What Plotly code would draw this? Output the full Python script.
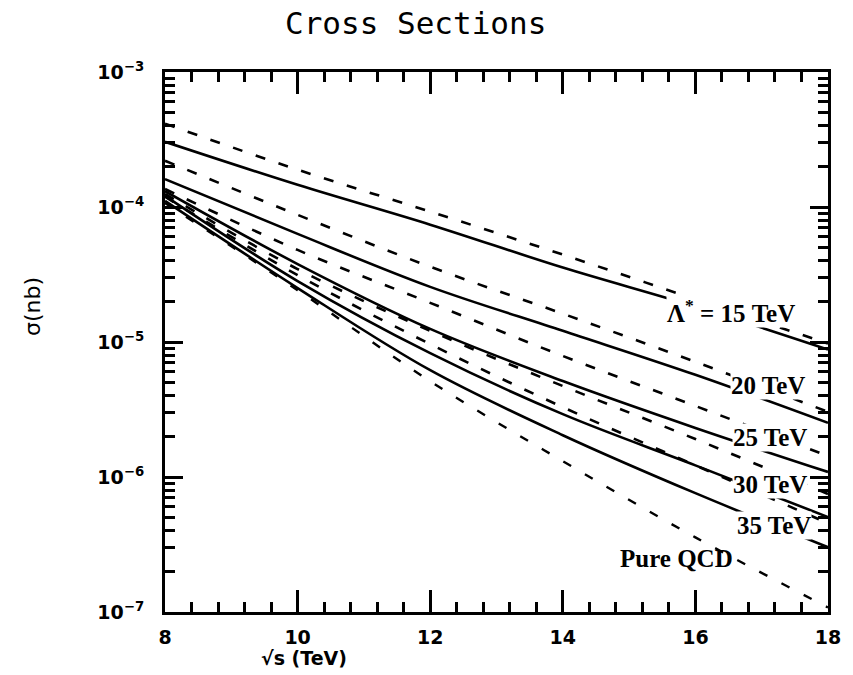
import plotly.graph_objects as go

# centre-of-mass energy sqrt(s) in TeV
sqrt_s = [8, 10, 12, 14, 16, 18]

# cross sections sigma (nb); solid and dashed curves for each compositeness scale
sigma_solid_15 = [3.04e-4, 1.46e-4, 7.40e-5, 3.56e-5, 1.83e-5, 8.79e-6]
sigma_dash_15 = [4.14e-4, 1.89e-4, 9.24e-5, 4.44e-5, 2.07e-5, 9.75e-6]
sigma_solid_20 = [1.61e-4, 6.32e-5, 2.56e-5, 1.21e-5, 5.71e-6, 2.52e-6]
sigma_dash_20 = [2.20e-4, 8.75e-5, 3.61e-5, 1.62e-5, 7.13e-6, 3.04e-6]
sigma_solid_25 = [1.31e-4, 3.78e-5, 1.25e-5, 5.14e-6, 2.31e-6, 1.09e-6]
sigma_dash_25 = [1.36e-4, 4.81e-5, 1.95e-5, 7.88e-6, 3.36e-6, 1.43e-6]
sigma_solid_30 = [1.21e-4, 2.83e-5, 8.27e-6, 2.92e-6, 1.22e-6, 5.05e-7]
sigma_dash_30 = [1.25e-4, 3.47e-5, 1.21e-5, 4.72e-6, 1.91e-6, 7.48e-7]
sigma_solid_35 = [1.11e-4, 2.51e-5, 6.18e-6, 2.04e-6, 7.59e-7, 3.02e-7]
sigma_dash_35 = [1.19e-4, 3.13e-5, 9.64e-6, 3.29e-6, 1.22e-6, 4.55e-7]
sigma_qcd = [1.07e-4, 2.42e-5, 5.12e-6, 1.31e-6, 3.57e-7, 1.08e-7]

y_major = [1e-7, 1e-6, 1e-5, 1e-4, 1e-3]
y_major_text = ["10<sup>−7</sup>", "10<sup>−6</sup>", "10<sup>−5</sup>",
                "10<sup>−4</sup>", "10<sup>−3</sup>"]
x_major = [8, 10, 12, 14, 16, 18]

# minor tick positions: every 0.4 TeV, and 2..9 within each decade
x_minor = [round(8 + 0.4 * i, 1) for i in range(26) if i % 5 != 0]
y_minor = [m * 10.0 ** e for e in range(-7, -3) for m in range(2, 10)]

curve_labels = ["Λ<sup>*</sup> = 15 TeV", "20 TeV", "25 TeV", "30 TeV", "35 TeV"]

solid = [sigma_solid_15, sigma_solid_20, sigma_solid_25, sigma_solid_30, sigma_solid_35]
dashed = [sigma_dash_15, sigma_dash_20, sigma_dash_25, sigma_dash_30, sigma_dash_35]
names = ["15 TeV", "20 TeV", "25 TeV", "30 TeV", "35 TeV"]

fig = go.Figure()
for nm, ys in zip(names, dashed):
    fig.add_trace(go.Scatter(x=sqrt_s, y=ys, mode="lines", name=nm + " (dashed)",
                             line=dict(color="black", width=2.6, dash="10px,14px", shape="spline")))
for nm, ys in zip(names, solid):
    fig.add_trace(go.Scatter(x=sqrt_s, y=ys, mode="lines", name=nm,
                             line=dict(color="black", width=2.6, shape="spline")))
fig.add_trace(go.Scatter(x=sqrt_s, y=sigma_qcd, mode="lines", name="Pure QCD",
                         line=dict(color="black", width=2.4, dash="9px,16px", shape="spline")))

label_font = dict(family="Liberation Serif", size=25, color="black")
label_pos = [(0.854, 0.557), (0.909, 0.420), (0.913, 0.324), (0.913, 0.237), (0.919, 0.161)]
for txt, (px, py) in zip(curve_labels, label_pos):
    fig.add_annotation(text="<b>" + txt + "</b>", x=px, y=py, xref="paper", yref="paper",
                       xanchor="center", yanchor="middle",
                       showarrow=False, font=label_font, bgcolor="white", borderpad=0)
fig.add_annotation(text="<b>Pure QCD</b>", x=0.772, y=0.100, xref="paper", yref="paper",
                   xanchor="center", yanchor="middle", showarrow=False, font=label_font)

# title and axis titles
fig.add_annotation(text="Cross Sections", x=0.378, y=1.091, xref="paper", yref="paper",
                   xanchor="center", yanchor="middle", showarrow=False,
                   font=dict(family="DejaVu Sans Mono", size=31, color="black"))
fig.add_annotation(text="<b>√s (TeV)</b>", x=0.209, y=-0.085, xref="paper", yref="paper",
                   xanchor="center", yanchor="middle", showarrow=False,
                   font=dict(family="DejaVu Sans", size=19, color="black"))
fig.add_annotation(text="σ(nb)", x=-0.199, y=0.565, xref="paper", yref="paper",
                   xanchor="center", yanchor="middle", showarrow=False, textangle=-90,
                   font=dict(family="DejaVu Sans", size=22, color="black"))

tick_font = dict(family="DejaVu Sans", size=19, color="black", weight="bold")
frame = dict(showline=True, linewidth=3, linecolor="#000000", mirror="allticks",
             showgrid=False, zeroline=False, ticks="inside", tickcolor="#000000")
minor_x = dict(tickmode="array", tickvals=x_minor, ticks="inside", ticklen=10,
               tickwidth=3, tickcolor="#000000", showgrid=False)
minor_y = dict(tickmode="array", tickvals=y_minor, ticks="inside", ticklen=10,
               tickwidth=3, tickcolor="#000000", showgrid=False)

fig.update_layout(
    xaxis=dict(range=[8, 18], tickmode="array", tickvals=x_major,
               ticktext=[str(v) for v in x_major], ticklen=22, tickwidth=3,
               tickfont=tick_font, ticklabelstandoff=6, minor=minor_x, **frame),
    yaxis=dict(type="log", range=[-7, -3], tickmode="array", tickvals=y_major,
               ticktext=y_major_text, ticklen=18, tickwidth=3, tickfont=tick_font,
               ticklabelstandoff=14, minor=minor_y, **frame),
    width=853, height=675, showlegend=False,
    margin=dict(l=165, r=18, t=72, b=63),
    plot_bgcolor="white", paper_bgcolor="white",
)

fig.write_html("out.html")
